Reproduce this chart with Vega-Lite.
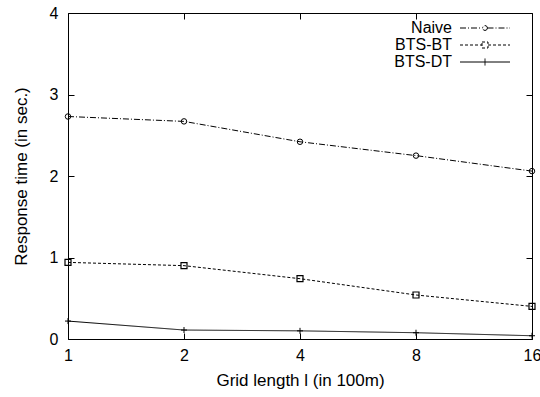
{
  "$schema": "https://vega.github.io/schema/vega-lite/v6.json",
  "width": 464,
  "height": 326,
  "autosize": {"type": "none"},
  "padding": {"left": 68, "top": 13, "right": 8, "bottom": 58},
  "background": "white",
  "config": {
    "font": "Liberation Sans",
    "view": {"stroke": "black", "strokeWidth": 1},
    "axis": {"domain": false, "grid": false, "tickColor": "black", "tickSize": -6, "labelColor": "black", "titleColor": "black", "labelFontSize": 16, "titleFontSize": 17, "titleFontWeight": "normal"}
  },
  "data": {"values": [
    {"x": 1, "series": "Naive", "y": 2.73},
    {"x": 2, "series": "Naive", "y": 2.67},
    {"x": 4, "series": "Naive", "y": 2.42},
    {"x": 8, "series": "Naive", "y": 2.25},
    {"x": 16, "series": "Naive", "y": 2.06},
    {"x": 1, "series": "BTS-BT", "y": 0.94},
    {"x": 2, "series": "BTS-BT", "y": 0.90},
    {"x": 4, "series": "BTS-BT", "y": 0.74},
    {"x": 8, "series": "BTS-BT", "y": 0.54},
    {"x": 16, "series": "BTS-BT", "y": 0.40},
    {"x": 1, "series": "BTS-DT", "y": 0.22},
    {"x": 2, "series": "BTS-DT", "y": 0.11},
    {"x": 4, "series": "BTS-DT", "y": 0.10},
    {"x": 8, "series": "BTS-DT", "y": 0.077},
    {"x": 16, "series": "BTS-DT", "y": 0.04}
  ]},
  "resolve": {"axis": {"x": "independent", "y": "independent"}},
  "layer": [
    {
      "mark": {"type": "line", "color": "black", "strokeWidth": 1},
      "encoding": {
        "x": {"field": "x", "type": "quantitative", "scale": {"type": "log", "base": 2, "domain": [1, 16]},
              "axis": {"orient": "bottom", "values": [1, 2, 4, 8, 16], "labelPadding": 14, "title": "Grid length l (in 100m)", "titlePadding": 9, "labelFlush": false}},
        "y": {"field": "y", "type": "quantitative", "scale": {"domain": [0, 4]},
              "axis": {"orient": "left", "values": [0, 1, 2, 3, 4], "labelPadding": 16, "title": "Response time (in sec.)", "titlePadding": 19}},
        "strokeDash": {"field": "series", "type": "nominal",
          "scale": {"domain": ["Naive", "BTS-BT", "BTS-DT"], "range": [[6, 2, 1, 2], [3, 2], [1, 0]]},
          "legend": {"title": null, "orient": "none", "legendX": 409, "legendY": 7,
            "labelAlign": "right", "labelOffset": -41, "labelFontSize": 16, "labelColor": "black",
            "symbolSize": 100, "symbolStrokeWidth": 1, "symbolStrokeColor": "black", "rowPadding": 1,
            "encode": {"symbols": {"update": {
              "shape": {"signal": "datum.value == 'Naive' ? 'M-5,0H-0.5M0.5,0H5M0.5,0L0.35,0.35L0,0.5L-0.35,0.35L-0.5,0L-0.35,-0.35L0,-0.5L0.35,-0.35Z' : datum.value == 'BTS-BT' ? 'M-5,0H-0.6M0.6,0H5M-0.6,-0.6H0.6V0.6H-0.6Z' : 'M-5,0H5M0,-0.7V0.7'"},
              "stroke": {"value": "black"},
              "fill": {"value": "transparent"}
            }}}
          }}
      }
    },
    {
      "transform": [{"filter": "datum.series == 'Naive'"}],
      "mark": {"type": "point", "shape": "circle", "filled": false, "color": "black", "strokeWidth": 1, "size": 30, "opacity": 1},
      "encoding": {
        "x": {"field": "x", "type": "quantitative", "scale": {"type": "log", "base": 2, "domain": [1, 16]},
              "axis": {"orient": "top", "values": [1, 2, 4, 8, 16], "labels": false, "title": null}},
        "y": {"field": "y", "type": "quantitative", "scale": {"domain": [0, 4]},
              "axis": {"orient": "right", "values": [0, 1, 2, 3, 4], "labels": false, "title": null}}
      }
    },
    {
      "transform": [{"filter": "datum.series == 'BTS-BT'"}],
      "mark": {"type": "point", "shape": "square", "filled": false, "color": "black", "strokeWidth": 1.2, "size": 36, "opacity": 1},
      "encoding": {
        "x": {"field": "x", "type": "quantitative", "scale": {"type": "log", "base": 2, "domain": [1, 16]}, "axis": null},
        "y": {"field": "y", "type": "quantitative", "scale": {"domain": [0, 4]}, "axis": null}
      }
    },
    {
      "transform": [{"filter": "datum.series == 'BTS-DT'"}],
      "mark": {"type": "point", "shape": "M-1,0H1M0,-1V1", "filled": false, "color": "black", "strokeWidth": 1, "size": 36, "opacity": 1},
      "encoding": {
        "x": {"field": "x", "type": "quantitative", "scale": {"type": "log", "base": 2, "domain": [1, 16]}, "axis": null},
        "y": {"field": "y", "type": "quantitative", "scale": {"domain": [0, 4]}, "axis": null}
      }
    }
  ]
}
